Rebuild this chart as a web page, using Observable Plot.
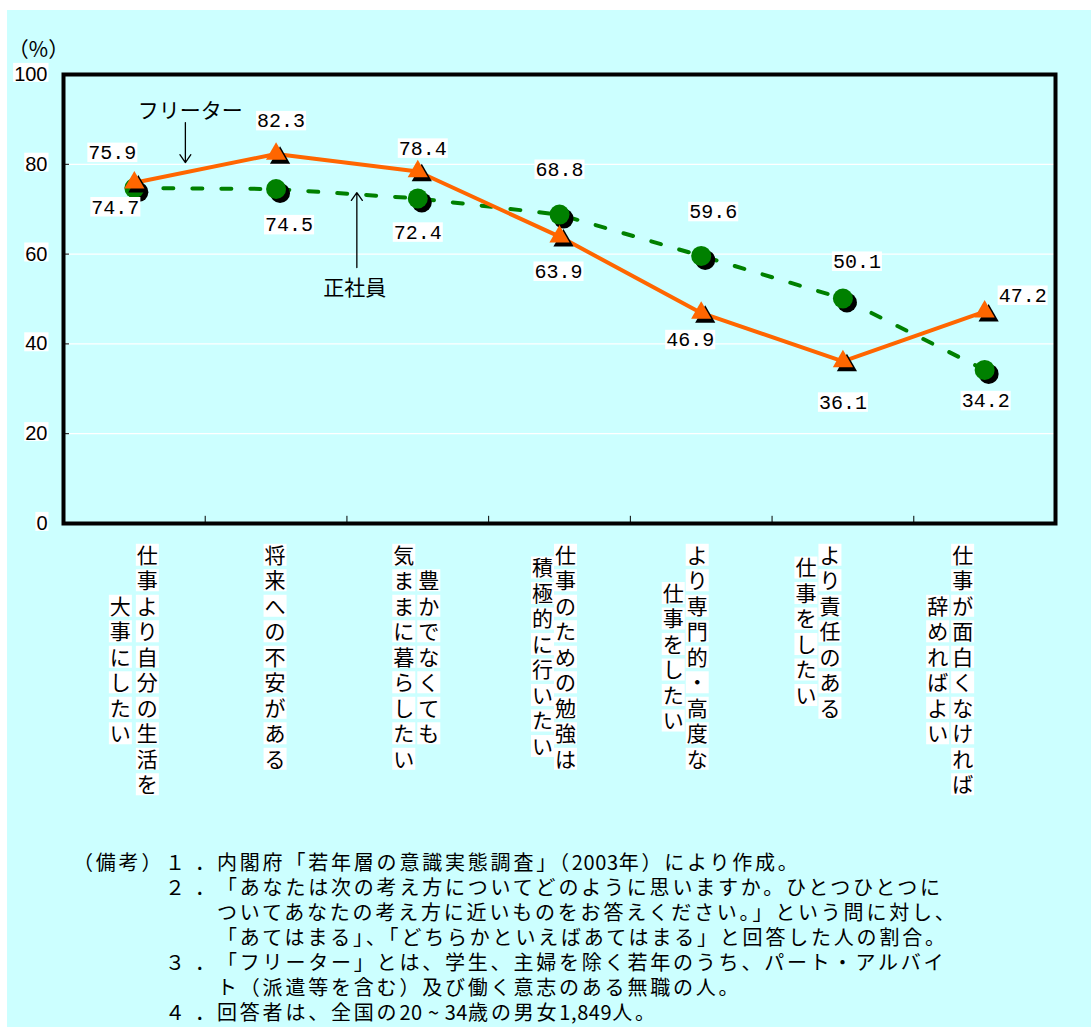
<!DOCTYPE html>
<html><head><meta charset="utf-8">
<script src="https://cdn.jsdelivr.net/npm/d3@7"></script>
<script src="https://cdn.jsdelivr.net/npm/@observablehq/plot@0.6"></script>
<style>
body{margin:0;background:#fff;}
#wrap{position:relative;width:1091px;height:1027px;background:#fff;overflow:hidden;}
#bg{position:absolute;left:7px;top:10px;right:0;bottom:0;background:#ccffff;}
#chart{position:absolute;left:0;top:0;}
#notes{position:absolute;left:0;top:849px;width:1091px;font-family:"Noto Sans CJK JP";font-size:20px;line-height:25px;color:#000;}
.ln{position:relative;height:25px;white-space:nowrap;}
.ln > span{position:absolute;top:0;}
.ln span.body{letter-spacing:2.8px;}
.ln span.num{letter-spacing:0.6px;}
</style></head><body>
<div id="wrap"><div id="bg"></div><div id="chart"></div><div id="notes"></div></div>
<script>
// ---- data ----
const categories = [
  ["仕事より自分の生活を", "大事にしたい"],
  ["将来への不安がある"],
  ["豊かでなくても", "気ままに暮らしたい"],
  ["仕事のための勉強は", "積極的に行いたい"],
  ["より専門的・高度な", "仕事をしたい"],
  ["より責任のある", "仕事をしたい"],
  ["仕事が面白くなければ", "辞めればよい"]
];
const freeter = [75.9, 82.3, 78.4, 63.9, 46.9, 36.1, 47.2];
const seishain = [74.7, 74.5, 72.4, 68.8, 59.6, 50.1, 34.2];
const seriesNames = ["フリーター", "正社員"];
const yTicks = [0, 20, 40, 60, 80, 100];
const yUnit = "（%）";
const annotations = [
  {name: seriesNames[0], tx: 0.394, ty: 91.8, x: 0.36, y1: 89.3, y2: 80.4},
  {name: seriesNames[1], tx: 1.556, ty: 52.3, x: 1.57, y1: 57.0, y2: 73.7}
];
const notePrefix = "（備考）";
const notes = [
  ["１", "内閣府「若年層の意識実態調査」（2003年）により作成。"],
  ["２", "「あなたは次の考え方についてどのように思いますか。ひとつひとつに"],
  ["", "ついてあなたの考え方に近いものをお答えください。」という問に対し、"],
  ["", "「あてはまる」、「どちらかといえばあてはまる」と回答した人の割合。"],
  ["３", "「フリーター」とは、学生、主婦を除く若年のうち、パート・アルバイ"],
  ["", "ト（派遣等を含む）及び働く意志のある無職の人。"],
  ["４", "回答者は、全国の20 ~ 34歳の男女1,849人。"]
];

// ---- layout (pixel offsets) ----
const freeterLabelOff = [[-22,-30],[5,-33],[5,-23],[-1,35],[-11,27],[0,41],[38,-16]];
const seishainLabelOff = [[-19,19],[13,36],[0,34],[0,-45],[12,-44],[14,-37],[1,31]];
const colShift = [[13,-14],[-1],[11,-14],[6,-17],[-4,-28],[-13,-37],[-22,-47]];
const ORANGE = "#ff6600", GREEN = "#008000";
const CJK = "Noto Sans CJK JP";
const FS_CAT = 21, PITCH = 25.5;

const W = 1091, H = 830;
const idx = (d, i) => i;

const marks = [
  Plot.ruleY([20, 40, 60, 80], {stroke: "white", strokeWidth: 1.2}),
  Plot.ruleY([20, 40, 60, 80], {x1: -0.5, x2: -0.5 + 6/142, stroke: "black", strokeWidth: 1}),
  Plot.ruleX(categories.slice(1).map((_, i) => i + 0.5), {y1: 0, y2: 1.6, stroke: "black", strokeWidth: 1}),
  Plot.axisY({ticks: yTicks, tickSize: 0, tickPadding: 16, fontSize: 20, fontFamily: "Liberation Sans", label: null}),
  Plot.text([yUnit], {frameAnchor: "top-left", textAnchor: "middle", dx: -25, dy: -32, fontFamily: CJK, fontSize: 21}),
  Plot.line(seishain, {x: idx, y: d => d, stroke: GREEN, strokeWidth: 4, strokeDasharray: "10,19"}),
  Plot.line(freeter, {x: idx, y: d => d, stroke: ORANGE, strokeWidth: 4}),
  Plot.dot(seishain, {x: idx, y: d => d, r: 10, fill: "black", dx: 4, dy: 4}),
  Plot.dot(seishain, {x: idx, y: d => d, r: 10, fill: GREEN}),
  Plot.dot(freeter, {x: idx, y: d => d, r: 7.5, symbol: "triangle", fill: "black", dx: 4, dy: 4}),
  Plot.dot(freeter, {x: idx, y: d => d, r: 7.5, symbol: "triangle", fill: ORANGE}),
  Plot.arrow(annotations, {x1: "x", x2: "x", y1: "y1", y2: "y2", stroke: "black", strokeWidth: 1.3, headLength: 11, headAngle: 70}),
  Plot.text(annotations, {x: "tx", y: "ty", text: "name", fontFamily: CJK, fontSize: 21}),
  Plot.frame({stroke: "black", strokeWidth: 4})
];

[[freeter, freeterLabelOff], [seishain, seishainLabelOff]].forEach(([vals, off]) => {
  vals.forEach((v, i) => {
    marks.push(Plot.text([v], {x: [i], y: [v], text: d => d.toFixed(1), dx: off[i][0], dy: off[i][1],
      fontFamily: "Liberation Mono", fontSize: 20}));
  });
});

categories.forEach((cols, i) => {
  const nmax = d3.max(cols, c => c.length);
  cols.forEach((c, j) => {
    marks.push(Plot.text([c], {x: [i], text: d => Array.from(d).join("\n"), frameAnchor: "bottom",
      lineAnchor: "top", lineHeight: PITCH / FS_CAT, dy: 21 + (nmax - c.length) * PITCH / 2, dx: colShift[i][j],
      fontFamily: CJK, fontSize: FS_CAT}));
  });
});

const plot = Plot.plot({
  width: W, height: H,
  marginLeft: 63, marginRight: 36, marginTop: 74, marginBottom: H - 523,
  x: {type: "linear", domain: [-0.5, 6.5], axis: null},
  y: {domain: [0, 100], axis: null},
  style: {background: "transparent", fontFamily: "Liberation Sans", fontSize: "20px", color: "black"},
  marks
});
document.getElementById("chart").append(plot);

// white label boxes
const NS = "http://www.w3.org/2000/svg";
function addRect(t, x, y, w, h) {
  const r = document.createElementNS(NS, "rect");
  r.setAttribute("x", x); r.setAttribute("y", y); r.setAttribute("width", w); r.setAttribute("height", h);
  r.setAttribute("fill", "white");
  const tr = t.getAttribute("transform"); if (tr) r.setAttribute("transform", tr);
  t.parentNode.insertBefore(r, t);
}
const catNames = new Set(categories.flat());
Array.from(plot.querySelectorAll("text")).forEach(t => {
  const s = t.textContent;
  if (/^\d+\.\d$/.test(s)) {
    const b = t.getBBox();
    addRect(t, b.x - 1, b.y + 0.5, b.width + 2, b.height - 3.5);
  } else if (/^\d+$/.test(s)) {
    const b = t.getBBox();
    addRect(t, b.x - 1, b.y, b.width + 2, b.height - 3);
  } else if (t.querySelectorAll("tspan").length > 1 || catNames.has(s)) {
    const n = t.getNumberOfChars();
    for (let k = 0; k < n; k++) {
      const e = t.getExtentOfChar(k);
      const cy = e.y + e.height * 0.539;
      addRect(t, e.x - 1, cy - 11, e.width + 2, 22);
    }
  }
});

// notes
const notesDiv = document.getElementById("notes");
function fillBody(el, str) {
  str.split(/([0-9,~ ]+)/).forEach(part => {
    if (!part) return;
    const s = document.createElement("span");
    if (/^[0-9,~ ]+$/.test(part)) s.className = "num";
    s.textContent = part;
    el.append(s);
  });
}
notes.forEach((row, k) => {
  const ln = document.createElement("div"); ln.className = "ln";
  if (k === 0) { const s = document.createElement("span"); s.style.left = "73px"; s.style.letterSpacing = "2.8px"; s.textContent = notePrefix; ln.append(s); }
  if (row[0]) {
    const n = document.createElement("span"); n.style.left = "165px"; n.textContent = row[0]; ln.append(n);
    const p = document.createElement("span"); p.style.left = "195px"; p.textContent = "．"; ln.append(p);
  }
  const b = document.createElement("span"); b.className = "body"; b.style.left = "217px"; fillBody(b, row[1]); ln.append(b);
  notesDiv.append(ln);
});
</script>
</body></html>
